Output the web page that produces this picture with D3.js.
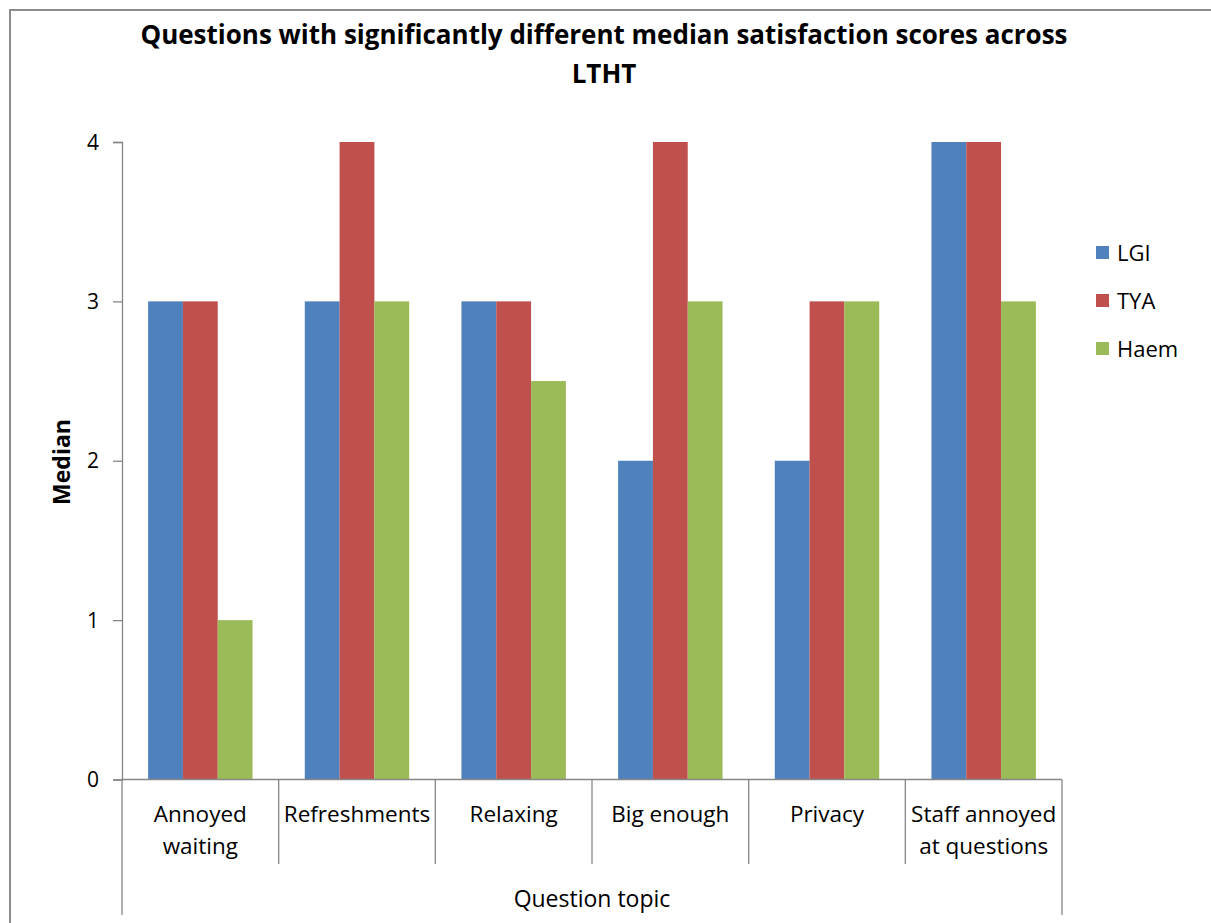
<!DOCTYPE html>
<html>
<head>
<meta charset="utf-8">
<script src="https://cdn.jsdelivr.net/npm/d3@7"></script>
<style>
  html, body { margin: 0; padding: 0; background: #fff; }
  svg { display: block; }
  text { font-family: "Open Sans", "DejaVu Sans", sans-serif; fill: #000; }
</style>
</head>
<body>
<script>
// Median satisfaction scores by question topic and site
const categories = [["Annoyed", "waiting"], ["Refreshments"], ["Relaxing"], ["Big enough"], ["Privacy"], ["Staff annoyed", "at questions"]];
const seriesNames = ["LGI", "TYA", "Haem"];
const lgiValues  = [3, 3, 3, 2, 2, 4];
const tyaValues  = [3, 4, 3, 4, 3, 4];
const haemValues = [1, 3, 2.5, 3, 3, 3];
const yTicks = [0, 1, 2, 3, 4];
const colors = ["#4F81BD", "#C0504D", "#9BBB59"];

const W = 1211, H = 923;
const svg = d3.select("body").append("svg").attr("width", W).attr("height", H);

// chart frame
svg.append("rect").attr("x", 10).attr("y", 10).attr("width", W + 10).attr("height", H + 10)
  .attr("fill", "#fff").attr("stroke", "#8c8c8c").attr("stroke-width", 2);

const plot = { left: 122, right: 1062, top: 142, bottom: 779.5 };

const x0 = d3.scaleBand().domain(d3.range(categories.length))
  .range([plot.left, plot.right]).paddingInner(0).paddingOuter(0);
const x1 = d3.scaleBand().domain(seriesNames)
  .range([0, x0.bandwidth()]).paddingInner(0).paddingOuter(0.75);
const y = d3.scaleLinear().domain([0, 4]).range([plot.bottom, plot.top]);

const series = [lgiValues, tyaValues, haemValues];
const groups = svg.append("g").selectAll("g")
  .data(categories.map((c, i) => ({ i, vals: series.map((s, k) => ({ name: seriesNames[k], v: s[i], k })) })))
  .join("g").attr("transform", d => `translate(${x0(d.i)},0)`);
groups.selectAll("rect").data(d => d.vals).join("rect")
  .attr("x", d => x1(d.name))
  .attr("width", x1.bandwidth())
  .attr("y", d => y(d.v))
  .attr("height", d => y(0) - y(d.v))
  .attr("fill", d => colors[d.k]);

const axisColor = "#868686";

// y axis
const yAxis = svg.append("g").attr("transform", `translate(${plot.left},0)`)
  .call(d3.axisLeft(y).tickValues(yTicks).tickSize(9).tickPadding(14).tickFormat(d3.format("d")));
yAxis.select(".domain").attr("stroke", axisColor).attr("stroke-width", 1.3);
yAxis.selectAll(".tick line").attr("stroke", axisColor).attr("stroke-width", 1.3);
yAxis.selectAll(".tick text").style("font-size", "21px").attr("fill", "#000").attr("dy", "0.34em");

// x axis baseline and category dividers
const xg = svg.append("g");
xg.append("line").attr("x1", plot.left).attr("x2", plot.right)
  .attr("y1", plot.bottom).attr("y2", plot.bottom)
  .attr("stroke", axisColor).attr("stroke-width", 1.3);
const edges = d3.range(categories.length + 1).map(i => plot.left + i * x0.bandwidth());
xg.selectAll("line.div").data(edges).join("line").attr("class", "div")
  .attr("x1", d => d).attr("x2", d => d)
  .attr("y1", plot.bottom)
  .attr("y2", (d, i) => (i === 0 || i === categories.length) ? 915 : 864)
  .attr("stroke", axisColor).attr("stroke-width", 1.3);

// category labels
const labels = xg.selectAll("text.cat").data(categories).join("text").attr("class", "cat")
  .attr("text-anchor", "middle").style("font-size", "22.5px");
labels.each(function (lines, i) {
  const t = d3.select(this);
  lines.forEach((ln, j) => {
    t.append("tspan").attr("x", x0(i) + x0.bandwidth() / 2).attr("y", 822 + j * 32).text(ln);
  });
});

// axis titles
svg.append("text").attr("x", 592).attr("y", 907).attr("text-anchor", "middle")
  .style("font-size", "23px").text("Question topic");
svg.append("text").attr("transform", "translate(70,462) rotate(-90)").attr("text-anchor", "middle")
  .style("font-size", "23px").style("font-weight", "bold").text("Median");

// title
const title = svg.append("text").attr("text-anchor", "middle")
  .style("font-size", "26px").style("font-weight", "bold");
title.append("tspan").attr("x", 604).attr("y", 44)
  .text("Questions with significantly different median satisfaction scores across");
title.append("tspan").attr("x", 604).attr("y", 83).text("LTHT");

// legend
const legend = svg.append("g").selectAll("g").data(seriesNames).join("g")
  .attr("transform", (d, i) => `translate(1096,${253 + i * 48})`);
legend.append("rect").attr("x", 0).attr("y", -7).attr("width", 13).attr("height", 13)
  .attr("fill", (d, i) => colors[i]);
legend.append("text").attr("x", 21).attr("y", 0).attr("dy", "0.35em")
  .style("font-size", "22px").text(d => d);
</script>
</body>
</html>
